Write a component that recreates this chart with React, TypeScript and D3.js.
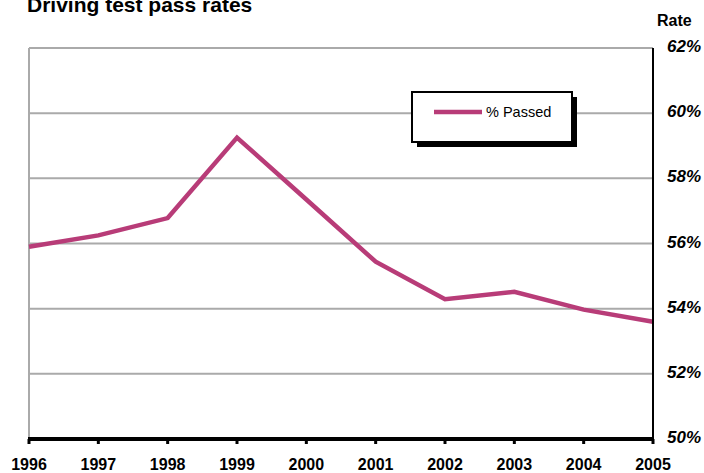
import React from "react";
import * as d3 from "d3";

const years = ["1996","1997","1998","1999","2000","2001","2002","2003","2004","2005"];
const passed = [55.9, 56.25, 56.78, 59.25, 57.35, 55.44, 54.29, 54.52, 53.97, 53.6];
const yTicks = [50, 52, 54, 56, 58, 60, 62];
const seriesName = "% Passed";
const title = "Driving test pass rates";
const axisTitle = "Rate";

export default function App() {
  const W = 704, H = 473;
  const left = 29, right = 653, top = 48, bottom = 439;
  const x = d3.scalePoint<string>().domain(years).range([left, right]);
  const y = d3.scaleLinear().domain([50, 62]).range([bottom, top]);
  const line = d3.line<number>().x((_, i) => x(years[i])!).y(d => y(d));
  const font = "'Liberation Sans', Arial, Helvetica, sans-serif";
  return (
    <svg width={W} height={H} style={{ position: "absolute", left: 0, top: 0 }} fontFamily={font}>
      <rect width={W} height={H} fill="#fff" />
      <text x={27} y={12} fontSize={21} fontWeight="bold">{title}</text>
      {yTicks.slice(1).map(t => (
        <line key={t} x1={left} x2={right} y1={y(t)} y2={y(t)} stroke="#aaa" strokeWidth={2} />
      ))}
      <line x1={left} x2={left} y1={top} y2={bottom} stroke="#aaa" strokeWidth={2} />
      <path d={line(passed) || ""} fill="none" stroke="#b83c78" strokeWidth={4.5} strokeLinejoin="miter" />
      <line x1={right} x2={right} y1={top} y2={bottom} stroke="#000" strokeWidth={2} />
      <line x1={left - 1} x2={right + 1} y1={bottom} y2={bottom} stroke="#000" strokeWidth={4} />
      {years.map(yr => (
        <g key={yr}>
          <line x1={x(yr)} x2={x(yr)} y1={bottom} y2={bottom + 5} stroke="#000" strokeWidth={3} />
          <text x={x(yr)} y={470} fontSize={16} fontWeight="bold" textAnchor="middle">{yr}</text>
        </g>
      ))}
      {yTicks.map(t => (
        <text key={t} x={667} y={y(t) + 4} fontSize={17} fontWeight="bold" fontStyle="italic">{t}%</text>
      ))}
      <text x={657} y={26} fontSize={16} fontWeight="bold">{axisTitle}</text>
      <g>
        <rect x={417} y={97} width={160} height={50} fill="#000" />
        <rect x={412} y={92} width={160} height={50} fill="#fff" stroke="#000" strokeWidth={2} />
        <line x1={434} x2={482} y1={112} y2={112} stroke="#b83c78" strokeWidth={4.5} />
        <text x={486} y={117} fontSize={14.5}>{seriesName}</text>
      </g>
    </svg>
  );
}
